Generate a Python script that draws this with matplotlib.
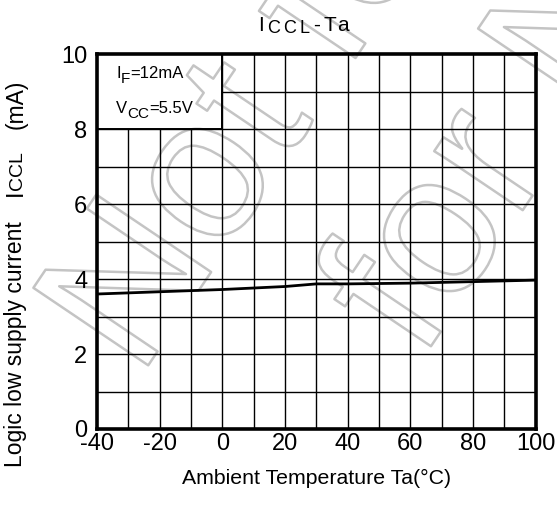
import matplotlib
matplotlib.use('Agg')
import matplotlib.pyplot as plt
import matplotlib.patheffects as pe
import numpy as np

plt.rcParams['font.family'] = ['Liberation Sans', 'DejaVu Sans']
plt.rcParams['axes.unicode_minus'] = False

# data
ta = [-40, -20, 0, 20, 30, 40, 60, 80, 100]
iccl = [3.6, 3.66, 3.72, 3.8, 3.87, 3.87, 3.89, 3.93, 3.97]

x_major = [-40, -20, 0, 20, 40, 60, 80, 100]
y_major = [0, 2, 4, 6, 8, 10]
x_grid = np.arange(-30, 100, 10)
y_grid = np.arange(1, 10, 1)


def chain(first, pieces, rotation=0):
    # put text pieces one after another, each one anchored on the previous
    prev = first
    for s, size, gap, shift in pieces:
        if rotation == 0:
            prev = plt.annotate(s, xy=(1, 0), xycoords=prev, xytext=(gap, shift),
                                textcoords='offset points', fontsize=size,
                                ha='left', va='bottom', annotation_clip=False)
        else:
            prev = plt.annotate(s, xy=(0, 1), xycoords=prev, xytext=(-shift, gap),
                                textcoords='offset points', fontsize=size,
                                ha='left', va='bottom', rotation=90,
                                annotation_clip=False)
    return prev


fig = plt.figure(figsize=(5.57, 5.05), dpi=100)
ax = fig.add_axes([0.174, 0.1505, 0.788, 0.7425])
ax.patch.set_alpha(0)

ax.set_xlim(-40, 100)
ax.set_ylim(0, 10)
ax.set_xticks(x_major)
ax.set_yticks(y_major)
ax.tick_params(length=0, labelsize=17)
ax.tick_params(axis='x', pad=3)
ax.tick_params(axis='y', pad=7)
for s in ax.spines.values():
    s.set_linewidth(2.6)
    s.set_zorder(5)

# grid, leaving the condition box (-40..0, 8..10) empty
for gx in x_grid:
    top = 8 if gx < 0 else 10
    ax.vlines(gx, 0, top, color='black', lw=1.0, zorder=2)
for gy in y_grid:
    left = 0 if gy > 8 else -40
    ax.hlines(gy, left, 100, color='black', lw=1.0, zorder=2)
ax.vlines(0, 8, 10, color='black', lw=1.4, zorder=2)
ax.hlines(8, -40, 0, color='black', lw=1.4, zorder=2)

ax.plot(ta, iccl, color='black', lw=2.0, zorder=4)

t = ax.text(-33.8, 9.28, 'I', fontsize=12, ha='left', va='bottom')
chain(t, [('F', 11, 0, -3.5), ('=12mA', 12, 0, 3.5)])
t = ax.text(-33.8, 8.35, 'V', fontsize=12, ha='left', va='bottom')
chain(t, [('CC', 11, 0, -3.5), ('=5.5V', 12, 0, 3.5)])

# title
t = fig.text(0.463, 0.931, 'I', fontsize=15, ha='left', va='bottom')
chain(t, [('C', 13, 2.5, -1.5), ('C', 13, 2.5, 0), ('L', 13, 2.5, 0),
          ('-', 15, 2.5, 1.5), ('T', 15, 2.5, 0), ('a', 15, 0.8, 0)])

ax.set_xlabel('Ambient Temperature Ta(°C)', fontsize=15.3, labelpad=10)

# y label
t = fig.text(0.008, 0.075, 'Logic low supply current', fontsize=16.5,
             rotation=90, ha='left', va='bottom')
chain(t, [('I', 17, 18, 0), ('CCL', 14, 0, -3), ('(mA)', 16.5, 16, 3)],
      rotation=90)

# watermark (tiled outline text)
wm = dict(fontsize=145, color='none', rotation=56, rotation_mode='anchor',
          ha='left', va='baseline', zorder=-1,
          path_effects=[pe.withStroke(linewidth=1.8, foreground='#c4c4c4')])
fig.text(139 / 557, 126 / 505, 'Not for New', **wm)
fig.text(421 / 557, 144 / 505, 'for New', **wm)

fig.savefig('out.png', dpi=100)
